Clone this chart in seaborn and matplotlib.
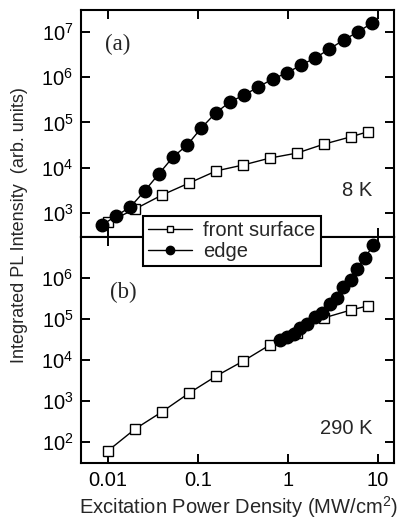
import matplotlib
matplotlib.use("Agg")
import math
import matplotlib.pyplot as plt
from matplotlib.lines import Line2D
from matplotlib.ticker import NullLocator, FixedLocator, FuncFormatter
import seaborn as sns
import pandas as pd

# ---------------- data ----------------
power_front = [0.01, 0.02, 0.04, 0.08, 0.16, 0.32, 0.63, 1.26, 2.5, 5.0, 7.7]
pl_front_8K = [630, 1225, 2500, 4600, 8500, 11500, 16300, 21000, 33000, 48000, 62000]
pl_front_290K = [60, 204, 538, 1540, 4000, 9300, 22900, 45700, 104000, 162000, 204000]

power_edge_8K = [0.0086, 0.0123, 0.0177, 0.0255, 0.0367, 0.0528, 0.076, 0.109, 0.157,
                 0.226, 0.326, 0.469, 0.675, 0.97, 1.40, 2.01, 2.89, 4.16, 5.98, 8.6]
pl_edge_8K = [543, 859, 1355, 3060, 7260, 17200, 31700, 75200, 161000, 282000, 403000,
              604000, 908000, 1.23e6, 1.85e6, 2.64e6, 4.17e6, 6.59e6, 9.9e6, 1.56e7]

power_edge_290K = [0.815, 0.98, 1.17, 1.36, 1.61, 2.0, 2.37, 2.93, 3.48, 4.11, 4.97,
                   5.89, 7.17, 8.87]
pl_edge_290K = [29700, 35800, 43100, 60300, 72900, 110000, 138000, 232000, 320000,
                593000, 893000, 1.66e6, 3.08e6, 6.17e6]

series_labels = ["front surface", "edge"]
panel_labels = ["(a)", "(b)"]
temp_labels = ["8 K", "290 K"]
x_ticks = [0.01, 0.1, 1, 10]
x_tick_labels = ["0.01", "0.1", "1", "10"]
y_ticks_top = [1e3, 1e4, 1e5, 1e6, 1e7]
y_ticks_bottom = [1e2, 1e3, 1e4, 1e5, 1e6]
xlabel = "Excitation Power Density (MW/cm$^2$)"
ylabel = "Integrated PL Intensity  (arb. units)"

# ---------------- style ----------------
sns.set_style("ticks")
plt.rcParams["font.family"] = ["Liberation Sans", "DejaVu Sans"]
plt.rcParams["mathtext.fontset"] = "custom"
plt.rcParams["mathtext.rm"] = "Liberation Sans"
plt.rcParams["mathtext.it"] = "Liberation Sans:italic"
plt.rcParams["mathtext.bf"] = "Liberation Sans:bold"

FS = 14.5
W, H = 398, 527
fig = plt.figure(figsize=(W / 100, H / 100), dpi=100)

left = 81 / W
width = (394 - 81) / W
ax_top = fig.add_axes([left, (H - 237) / H, width, (237 - 10) / H])
ax_bot = fig.add_axes([left, (H - 463) / H, width, (463 - 237) / H])

line_kw = dict(color="black", linewidth=1.0, estimator=None, sort=True)
sq_kw = dict(marker="s", markersize=7, markerfacecolor="white",
             markeredgecolor="black", markeredgewidth=1.0)
ci_kw = dict(marker="o", markersize=9, markerfacecolor="black",
             markeredgecolor="black", markeredgewidth=1.0)

df_f8 = pd.DataFrame({"x": power_front, "y": pl_front_8K})
df_e8 = pd.DataFrame({"x": power_edge_8K, "y": pl_edge_8K})
df_f290 = pd.DataFrame({"x": power_front, "y": pl_front_290K})
df_e290 = pd.DataFrame({"x": power_edge_290K, "y": pl_edge_290K})

sns.lineplot(data=df_f8, x="x", y="y", ax=ax_top, **line_kw, **sq_kw, zorder=3)
sns.lineplot(data=df_e8, x="x", y="y", ax=ax_top, **line_kw, **ci_kw, zorder=4)
sns.lineplot(data=df_f290, x="x", y="y", ax=ax_bot, **line_kw, **sq_kw, zorder=3)
sns.lineplot(data=df_e290, x="x", y="y", ax=ax_bot, **line_kw, **ci_kw, zorder=4)


def sci(v, pos):
    e = int(round(math.log10(v)))
    return "10$^{%d}$" % e


for ax, yt, ylim in [(ax_top, y_ticks_top, (10 ** 2.47, 10 ** 7.48)),
                     (ax_bot, y_ticks_bottom, (10 ** 1.48, 10 ** 6.99))]:
    ax.set_xscale("log")
    ax.set_yscale("log")
    ax.set_xlim(10 ** -2.3, 10 ** 1.178)
    ax.set_ylim(*ylim)
    ax.xaxis.set_major_locator(FixedLocator(x_ticks))
    ax.xaxis.set_minor_locator(NullLocator())
    ax.yaxis.set_major_locator(FixedLocator(yt))
    ax.yaxis.set_minor_locator(NullLocator())
    ax.yaxis.set_major_formatter(FuncFormatter(sci))
    ax.tick_params(which="both", direction="in", length=6.5, width=1.4,
                   top=True, right=True, labelsize=FS, pad=5.5, colors="black")
    for s in ax.spines.values():
        s.set_linewidth(1.5)
        s.set_color("black")
    ax.set_xlabel("")
    ax.set_ylabel("")

ax_top.tick_params(axis="x", labelbottom=False)
ax_bot.set_xticklabels(x_tick_labels)
ax_bot.tick_params(axis="x", pad=6)

# Panel labels and temperatures
serif = ["Liberation Serif", "DejaVu Serif"]
fig.text(117.5 / W, 1 - 44 / H, panel_labels[0], family=serif,
         fontsize=16.5, ha="center", va="center")
fig.text(123 / W, 1 - 292 / H, panel_labels[1], family=serif,
         fontsize=16.5, ha="center", va="center")
fig.text(372 / W, 1 - 191 / H, temp_labels[0], fontsize=FS, ha="right", va="center")
fig.text(373 / W, 1 - 429 / H, temp_labels[1], fontsize=FS, ha="right", va="center")

fig.text(239 / W, 1 - 507 / H, xlabel, fontsize=FS, ha="center", va="center")
fig.text(20 / W, 1 - 225 / H, ylabel, fontsize=13, ha="center", va="center",
         rotation=90)

handles = [
    Line2D([], [], color="black", linewidth=1.0, marker="s", markersize=5,
           markerfacecolor="white", markeredgecolor="black", markeredgewidth=1.0),
    Line2D([], [], color="black", linewidth=1.0, marker="o", markersize=6,
           markerfacecolor="black", markeredgecolor="black"),
]
leg = fig.legend(handles, series_labels, loc="upper left",
                 bbox_to_anchor=(143 / W, 1 - 216 / H), borderaxespad=0,
                 fontsize=FS, frameon=True, fancybox=False, framealpha=1,
                 edgecolor="black", facecolor="white", handlelength=2.2,
                 handletextpad=0.55, labelspacing=0.1, borderpad=0.25)
leg.get_frame().set_linewidth(1.5)

fig.savefig("out.png", dpi=100)
